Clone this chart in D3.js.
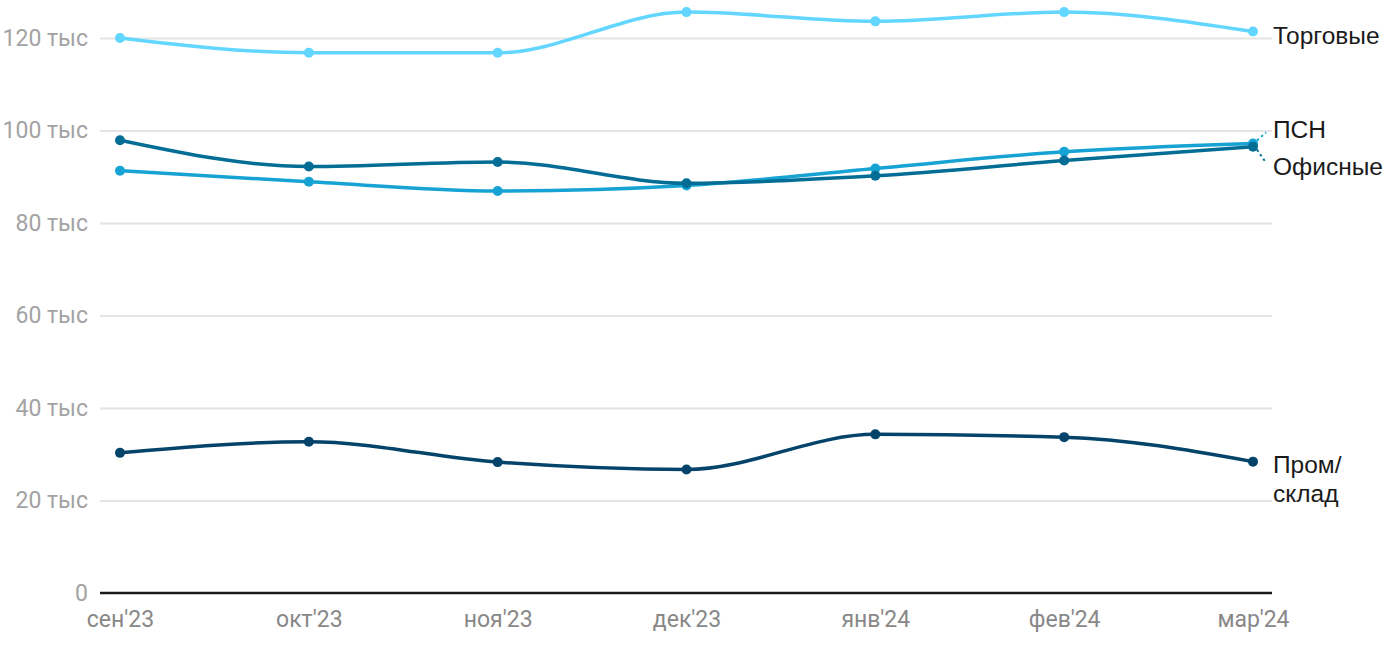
<!DOCTYPE html>
<html>
<head>
<meta charset="utf-8">
<script src="https://cdn.jsdelivr.net/npm/d3@7"></script>
<style>
  html, body { margin: 0; padding: 0; background: #fff; }
  svg { display: block; }
</style>
</head>
<body>
<svg id="chart" width="1400" height="650"></svg>
<script>
const months = ["сен'23", "окт'23", "ноя'23", "дек'23", "янв'24", "фев'24", "мар'24"];
const yTicks = [0, 20, 40, 60, 80, 100, 120];
const seriesNames = ["Торговые", "ПСН", "Офисные", "Пром/склад"];
const torgovye = [120.0, 116.8, 116.8, 125.6, 123.6, 125.6, 121.4];
const psn      = [91.3, 88.9, 86.9, 88.1, 91.8, 95.4, 97.2];
const ofisnye  = [97.9, 92.2, 93.2, 88.6, 90.2, 93.5, 96.5];
const promsklad = [30.3, 32.7, 28.3, 26.7, 34.3, 33.7, 28.4];
const colors = ["#62d6ff", "#16a3d3", "#036d96", "#04436a"];

const series = [
  { name: seriesNames[0], values: torgovye, color: colors[0], label: ["Торговые"], labelDy: 6 },
  { name: seriesNames[1], values: psn, color: colors[1], label: ["ПСН"], labelDy: -11, connector: true },
  { name: seriesNames[2], values: ofisnye, color: colors[2], label: ["Офисные"], labelDy: 22, connector: true },
  { name: seriesNames[3], values: promsklad, color: colors[3], label: ["Пром/", "склад"], labelDy: 5 }
];

const svg = d3.select("#chart");
const plotLeft = 100, plotRight = 1272;
const x = d3.scalePoint().domain(months).range([120, 1253]);
const y = d3.scaleLinear().domain([0, 120]).range([593, 38]);

// gridlines
const grid = svg.append("g").attr("transform", `translate(${plotRight},0)`)
  .call(d3.axisLeft(y).tickValues(yTicks.filter(d => d > 0)).tickSize(plotRight - plotLeft).tickFormat(""));
grid.select(".domain").remove();
grid.selectAll(".tick line").attr("stroke", "#e4e4e4").attr("stroke-width", 2);

// y labels
const yAxis = svg.append("g").attr("transform", `translate(88,0)`)
  .call(d3.axisLeft(y).tickValues(yTicks).tickSize(0).tickPadding(0)
    .tickFormat(d => d === 0 ? "0" : d + " тыс"));
yAxis.select(".domain").remove();
yAxis.selectAll("text").attr("fill", "#a3a3a3").style("font-family", "Roboto, sans-serif").style("font-size", "23px");

// zero line
svg.append("line").attr("x1", plotLeft).attr("x2", plotRight).attr("y1", y(0)).attr("y2", y(0))
  .attr("stroke", "#1a1a1a").attr("stroke-width", 2.5);

// x labels
const xAxis = svg.append("g").attr("transform", `translate(0,${y(0)})`)
  .call(d3.axisBottom(x).tickSize(0).tickPadding(18));
xAxis.select(".domain").remove();
xAxis.selectAll("text").attr("fill", "#888").style("font-family", "Roboto, sans-serif").style("font-size", "23px");

const line = d3.line().x((d, i) => x(months[i])).y(d => y(d)).curve(d3.curveMonotoneX);

series.forEach(s => {
  svg.append("path").attr("d", line(s.values)).attr("fill", "none")
    .attr("stroke", s.color).attr("stroke-width", 3.5).attr("stroke-linejoin", "round");
  svg.selectAll(null).data(s.values).enter().append("circle")
    .attr("cx", (d, i) => x(months[i])).attr("cy", d => y(d)).attr("r", 5).attr("fill", s.color);
});

// labels
const lx = 1273;
series.forEach(s => {
  const last = s.values[s.values.length - 1];
  const py = y(last);
  const ly = py + s.labelDy;
  if (s.connector) {
    svg.append("line").attr("x1", x(months[6]) + 4).attr("y1", py + (s.labelDy < 0 ? -3 : 3))
      .attr("x2", lx - 7).attr("y2", ly + (s.labelDy < 0 ? 0 : -6))
      .attr("stroke", s.color).attr("stroke-width", 2).attr("stroke-dasharray", "2.5,3");
  }
  const t = svg.append("text").attr("x", lx).attr("y", ly)
    .style("font-family", "'Liberation Sans', Arial, sans-serif").style("font-size", "24.5px")
    .attr("fill", "#1a1a1a").attr("dominant-baseline", "middle");
  s.label.forEach((l, i) => t.append("tspan").attr("x", lx).attr("dy", i === 0 ? 0 : 29).text(l));
});
</script>
</body>
</html>
